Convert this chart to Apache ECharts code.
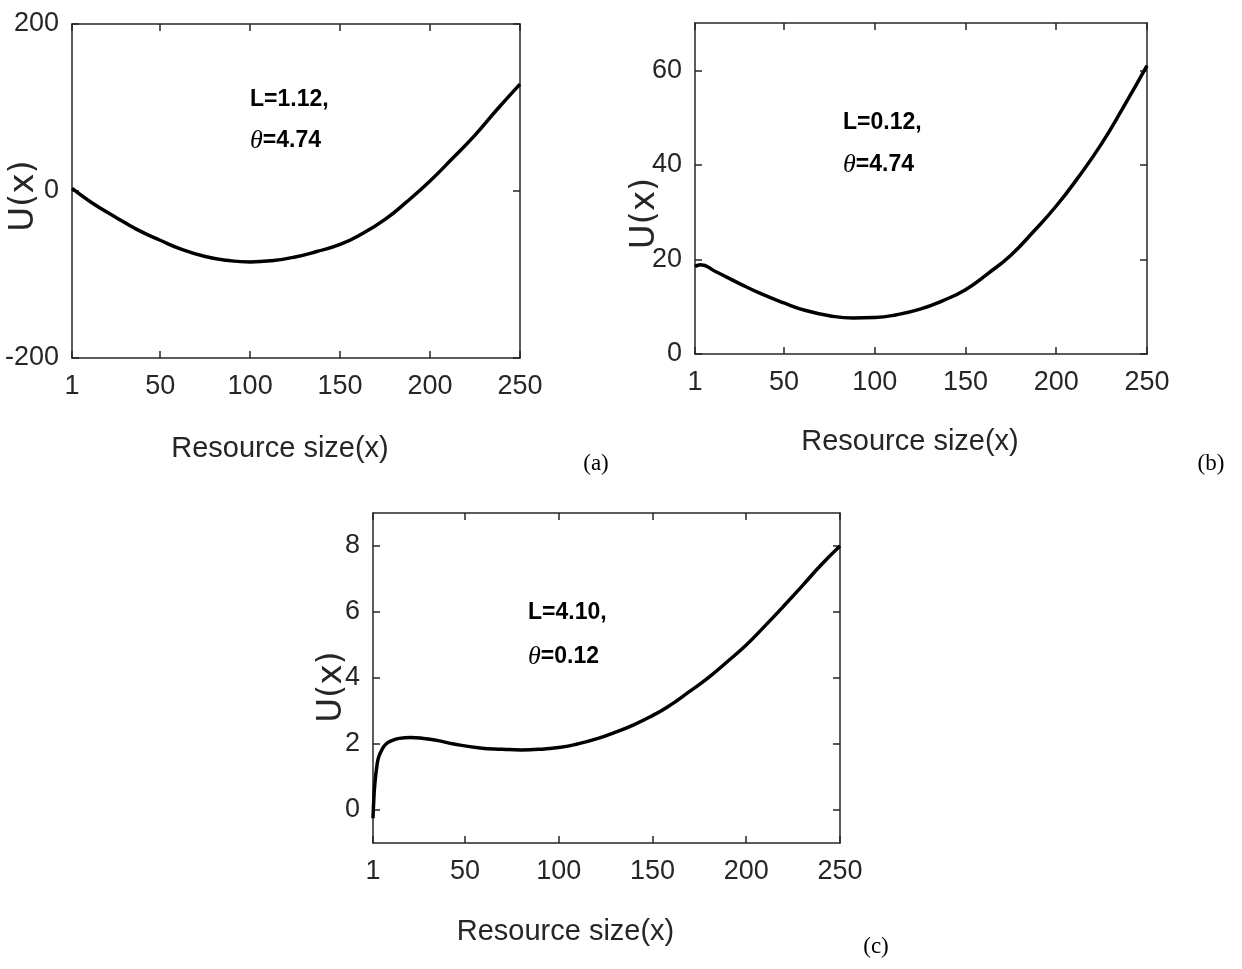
<!DOCTYPE html>
<html>
<head>
<meta charset="utf-8">
<script src="https://cdn.jsdelivr.net/npm/echarts@6/dist/echarts.min.js"></script>
<style>
html,body{margin:0;padding:0;background:#fff;}
#chart{width:1242px;height:969px;}
</style>
</head>
<body>
<div id="chart"></div>
<script>
// ---------------- data ----------------
const X_MIN = 1, X_MAX = 250;
const xTicks = [1, 50, 100, 150, 200, 250];

// panel (a): L=1.12, theta=4.74
const xA = [1, 12, 25, 37, 50, 62, 75, 87, 100, 112, 125, 137, 150, 162, 175, 187, 200, 212, 225, 237, 250];
const uA = [3, -14, -31, -46, -59, -70, -78.5, -83, -85, -83.5, -79, -72.5, -64, -51.5, -34, -13, 12, 38, 67, 97, 128];
const yTicksA = [-200, 0, 200];

// panel (b): L=0.12, theta=4.74
const xB = [1, 4, 12, 25, 37, 50, 62, 75, 88, 100, 112, 125, 137, 150, 162, 175, 187, 200, 212, 225, 237, 250];
const uB = [18.5, 18.9, 17.5, 15.0, 12.8, 10.8, 9.2, 8.1, 7.6, 7.7, 8.3, 9.5, 11.2, 13.6, 16.9, 20.9, 25.7, 31.3, 37.3, 44.5, 52.2, 61.0];
const yTicksB = [0, 20, 40, 60];

// panel (c): L=4.10, theta=0.12
const xC = [1, 1.5, 2, 3, 4, 6, 8, 11, 15, 21, 28, 35, 44, 58, 70, 80, 90, 101, 110, 121, 130, 140, 150, 158, 170, 180, 190, 200, 210, 220, 230, 240, 250];
const uC = [-0.25, 0.4, 0.8, 1.3, 1.6, 1.85, 2.0, 2.1, 2.17, 2.2, 2.17, 2.11, 2.0, 1.88, 1.84, 1.82, 1.84, 1.9, 2.0, 2.17, 2.35, 2.58, 2.86, 3.12, 3.6, 4.02, 4.5, 5.0, 5.58, 6.18, 6.8, 7.43, 8.0];
const yTicksC = [0, 2, 4, 6, 8];

const notes = [
  {L: 'L=1.12,', T: '=4.74'},
  {L: 'L=0.12,', T: '=4.74'},
  {L: 'L=4.10,', T: '=0.12'}
];
const subLabels = ['(a)', '(b)', '(c)'];
const xName = 'Resource size(x)';
const yName = 'U(x)';

// ---------------- styling ----------------
const FONT_NUM = "'Liberation Sans Narrow','Arial Narrow','Liberation Sans',Arial,sans-serif";
const AX = '#262626';

const grids = [
  {left: 72, top: 24, width: 448, height: 334},
  {left: 695, top: 23, width: 452, height: 331},
  {left: 373, top: 513, width: 467, height: 330}
];
const yRanges = [[-200, 200], [0, 70], [-1, 9]];
const yTickSets = [yTicksA, yTicksB, yTicksC];
const xNamePad = [[0, 32, 0, 0], [0, 22, 0, 0], [0, 82, 0, 0]];
const xNameGap = [76, 73, 74];
const yNamePad = [[0, 10, 0, 0], [0, 50, 0, 0], [0, 18, 0, 0]];
const yNameGap = [31, 33, 24];

const xAxis = [], yAxis = [], series = [];
const lineBase = {show: true, onZero: false, lineStyle: {color: AX, width: 1.5}};

grids.forEach((g, i) => {
  g.outerBoundsMode = 'none';
  const xb = {gridIndex: i, type: 'value', min: X_MIN, max: X_MAX, splitLine: {show: false},
    axisLine: lineBase,
    axisTick: {show: true, inside: true, length: 7, customValues: xTicks, lineStyle: {color: AX, width: 1.5}}};
  xAxis.push(Object.assign({}, xb, {
    position: 'bottom',
    axisLabel: {customValues: xTicks, color: AX, fontFamily: FONT_NUM, fontSize: 27, margin: 15},
    name: xName, nameLocation: 'middle', nameGap: xNameGap[i], nameMoveOverlap: false,
    nameTextStyle: {color: AX, fontFamily: FONT_NUM, fontSize: 29, padding: xNamePad[i]}
  }));
  xAxis.push(Object.assign({}, xb, {position: 'top', axisLabel: {show: false}}));

  const yt = yTickSets[i];
  const yb = {gridIndex: i, type: 'value', min: yRanges[i][0], max: yRanges[i][1], splitLine: {show: false},
    axisLine: lineBase,
    axisTick: {show: true, inside: true, length: 7, customValues: yt, lineStyle: {color: AX, width: 1.5}}};
  yAxis.push(Object.assign({}, yb, {
    position: 'left',
    axisLabel: {customValues: yt, color: AX, fontFamily: FONT_NUM, fontSize: 27, margin: 13},
    name: yName, nameLocation: 'middle', nameGap: yNameGap[i], nameRotate: 90, nameMoveOverlap: false,
    nameTextStyle: {color: AX, fontFamily: "'DejaVu Sans',sans-serif", fontSize: 34, padding: yNamePad[i]}
  }));
  yAxis.push(Object.assign({}, yb, {position: 'right', axisLabel: {show: false}}));
});

const xs = [xA, xB, xC], us = [uA, uB, uC];
xs.forEach((xv, i) => {
  series.push({
    type: 'line', xAxisIndex: 2 * i, yAxisIndex: 2 * i,
    data: xv.map((x, k) => [x, us[i][k]]),
    showSymbol: false, symbol: 'none', smooth: 0.5,
    lineStyle: {color: '#000', width: 3.5}, clip: true, silent: true
  });
});

// annotations
const notePos = [[250, 100, 141], [843, 123, 165], [528, 613, 657]];
const richStyle = {
  b: {fontFamily: "'Liberation Sans',Arial,sans-serif", fontWeight: 'bold', fontSize: 23, fill: '#000'},
  t: {fontFamily: "'Liberation Serif',serif", fontStyle: 'italic', fontSize: 26, fill: '#000'}
};
const graphic = [];
notes.forEach((n, i) => {
  const p = notePos[i];
  graphic.push({type: 'text', x: p[0], y: p[1], silent: true,
    style: {text: '{b|' + n.L + '}', rich: richStyle, verticalAlign: 'middle', align: 'left'}});
  graphic.push({type: 'text', x: p[0], y: p[2], silent: true,
    style: {text: '{t|θ}{b|' + n.T + '}', rich: richStyle, verticalAlign: 'middle', align: 'left'}});
});
const subPos = [[596, 464], [1211, 464], [876, 947]];
subLabels.forEach((s, i) => {
  graphic.push({type: 'text', x: subPos[i][0], y: subPos[i][1], silent: true,
    style: {text: s, fontFamily: "'Liberation Serif','DejaVu Serif',serif", fontSize: 23, fill: '#000',
      align: 'center', verticalAlign: 'middle'}});
});

const chart = echarts.init(document.getElementById('chart'), null, {renderer: 'canvas'});
chart.setOption({
  animation: false,
  backgroundColor: '#fff',
  grid: grids,
  xAxis: xAxis,
  yAxis: yAxis,
  series: series,
  graphic: graphic
});
</script>
</body>
</html>
